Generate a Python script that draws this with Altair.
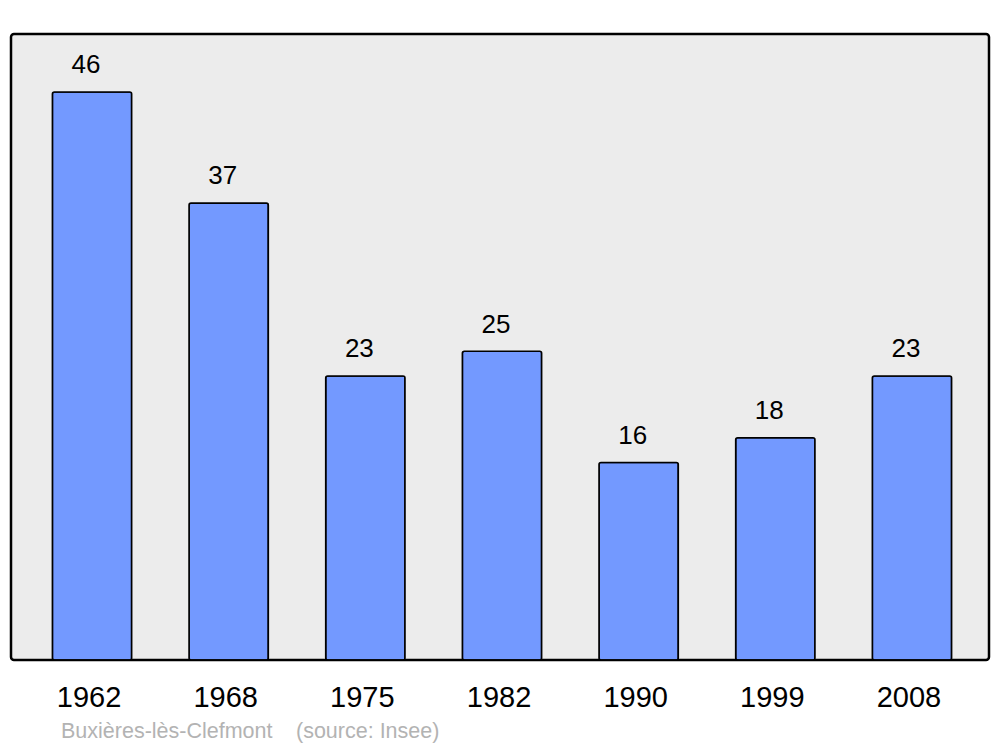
import altair as alt
import pandas as pd

years = ["1962", "1968", "1975", "1982", "1990", "1999", "2008"]
population = [46, 37, 23, 25, 16, 18, 23]
commune = "Buxières-lès-Clefmont"
source = "(source: Insee)"

df = pd.DataFrame({"year": years, "pop": population})

x = alt.X("year:N", sort=years,
          scale=alt.Scale(range=[12.7, 969.3], paddingInner=0.42, paddingOuter=0.21),
          axis=alt.Axis(title=None, domain=False, ticks=False, tickSize=0,
                        labelAngle=0, labelFont="Liberation Sans", labelFontSize=29,
                        labelColor="black", labelBaseline="alphabetic", labelPadding=46,
                        labelOffset=-3))
y = alt.Y("pop:Q", scale=alt.Scale(domain=[0, 50.7], nice=False), axis=None)

bars = alt.Chart(df).mark_bar(
    color="#7399ff", stroke="black", strokeWidth=1.6, cornerRadius=2
).encode(x=x, y=y)

labels = alt.Chart(df).mark_text(
    font="Liberation Sans", fontSize=26, color="black", baseline="alphabetic",
    dy=-18.7, dx=-6
).encode(x=x, y=y, text="pop:Q")

foot = pd.DataFrame({"t": [commune, source], "px": [50, 285]})
footer = alt.Chart(foot).mark_text(
    font="Liberation Sans", fontSize=21.5, color="#b3b3b3", align="left", baseline="alphabetic"
).encode(x=alt.X("px:Q", scale=None), y=alt.value(704), text="t:N")

chart = alt.layer(bars, labels, footer).properties(
    width=978, height=626,
    autosize=alt.AutoSizeParams(type="none"),
    padding={"left": 3, "top": 26, "right": 3, "bottom": 90},
).configure_view(
    fill="#ececec", stroke="black", strokeWidth=2.5, cornerRadius=3
)

chart.save("out.html", embed_options={"renderer": "svg", "actions": False})
